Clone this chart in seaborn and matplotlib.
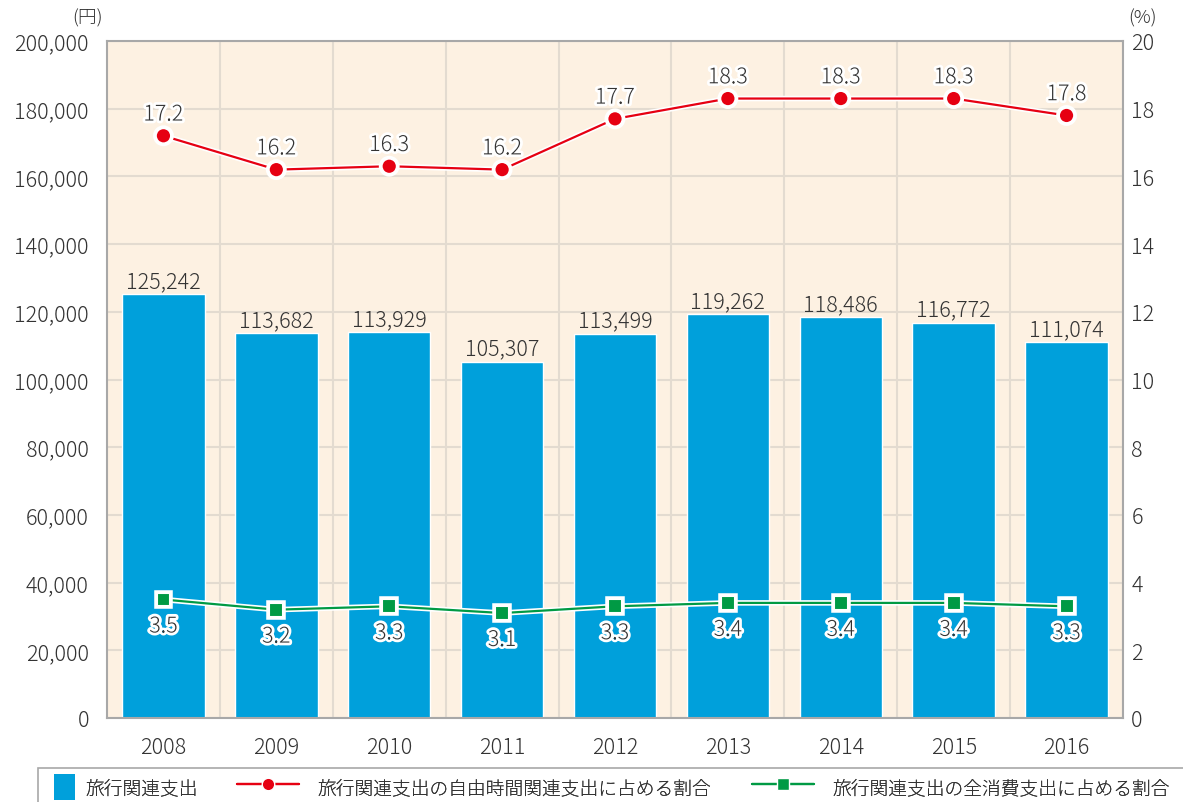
import matplotlib.pyplot as plt
import matplotlib.patheffects as pe
from matplotlib.patches import Patch, Rectangle
from matplotlib.lines import Line2D
import seaborn as sns
import pandas as pd
import numpy as np

# データ
years = ['2008', '2009', '2010', '2011', '2012', '2013', '2014', '2015', '2016']
travel_spend = [125242, 113682, 113929, 105307, 113499, 119262, 118486, 116772, 111074]
share_leisure = [17.2, 16.2, 16.3, 16.2, 17.7, 18.3, 18.3, 18.3, 17.8]
share_total = [3.5, 3.2, 3.3, 3.1, 3.3, 3.4, 3.4, 3.4, 3.3]
legend_labels = ['旅行関連支出', '旅行関連支出の自由時間関連支出に占める割合', '旅行関連支出の全消費支出に占める割合']

df = pd.DataFrame({'year': years, 'spend': travel_spend,
                   'leisure': share_leisure, 'total': share_total})
df['pos'] = np.arange(len(df))

sns.set_theme(style='white')
plt.rcParams['font.family'] = ['Noto Sans CJK JP', 'DejaVu Sans']
plt.rcParams['font.weight'] = 'light'

blue = '#00A0DB'
red = '#E60012'
green = '#009A44'
grid_c = '#E3DBD0'
text_c = '#333333'
fs = 15.5

fig = plt.figure(figsize=(11.83, 8.03), dpi=100)
ax = fig.add_axes([107/1183, 1-719/803, (1123-107)/1183, (719-42)/803])
ax.set_facecolor('#FDF1E2')

sns.barplot(data=df, x='year', y='spend', color=blue, saturation=1, width=0.73, ax=ax, zorder=2)
ax.set_xlim(-0.5, 8.5)
ax.set_ylim(0, 200000)
ax.set_yticks(np.arange(0, 200001, 20000))
ax.set_yticklabels([f'{v:,}' for v in range(0, 200001, 20000)])
ax.set_xticks(np.arange(9) + 0.5, minor=True)
ax.grid(True, axis='y', which='major', color=grid_c, lw=1.5, zorder=0)
ax.grid(True, axis='x', which='minor', color=grid_c, lw=1.5, zorder=0)
ax.set_axisbelow(True)
ax.set_xlabel('')
ax.set_ylabel('')
ax.tick_params(axis='both', which='both', length=0, labelsize=fs, colors=text_c)
ax.tick_params(axis='y', pad=13)
ax.tick_params(axis='x', pad=13)
for s in ax.spines.values():
    s.set_color('#A8A8A8')
    s.set_linewidth(1.5)

for p, v in zip(df['pos'], df['spend']):
    ax.text(p, v + 2100, f'{v:,}', ha='center', va='baseline', fontsize=fs, color=text_c, zorder=5)

ax2 = ax.twinx()
ax2.set_ylim(0, 20)
ax2.set_yticks(np.arange(0, 21, 2))
ax2.tick_params(axis='y', length=0, labelsize=fs, colors=text_c, pad=6)
for s in ax2.spines.values():
    s.set_visible(False)

line_fx = [pe.Stroke(linewidth=4, foreground='white'), pe.Normal()]
sns.lineplot(data=df, x='pos', y='leisure', color=red, lw=1.6, marker='o', markersize=11,
             markeredgecolor='white', markeredgewidth=1.5, ax=ax2, zorder=4, path_effects=line_fx)
sns.lineplot(data=df, x='pos', y='total', color=green, lw=1.6, marker='s', markersize=10,
             markeredgecolor='white', markeredgewidth=1.5, ax=ax2, zorder=4, path_effects=line_fx)
ax2.set_xlim(-0.5, 8.5)
ax2.set_xlabel('')
ax2.set_ylabel('')

txt_fx = [pe.withStroke(linewidth=4, foreground='white')]
for p, v in zip(df['pos'], df['leisure']):
    ax2.text(p, v + 0.45, f'{v:.1f}', ha='center', va='baseline', fontsize=fs, color=text_c,
             path_effects=txt_fx, zorder=6)
for p, v in zip(df['pos'], df['total']):
    ax2.text(p, v - 0.47, f'{v:.1f}', ha='center', va='top', fontsize=fs, color=text_c,
             path_effects=txt_fx, zorder=6)

fig.text(87/1183, 1-18/803, '(円)', ha='center', va='center', fontsize=13.5, color=text_c)
fig.text(1142/1183, 1-18/803, '(%)', ha='center', va='center', fontsize=13.5, color=text_c)

# 凡例
fig.patches.append(Rectangle((38/1183, -0.01), 1.0, (803-769)/803 + 0.01, transform=fig.transFigure,
                             fill=False, edgecolor='#A8A8A8', lw=1.2))
handles = [Patch(facecolor=blue, edgecolor='none'),
           Line2D([], [], color=red, lw=1.6, marker='o', markersize=9, markeredgecolor='white'),
           Line2D([], [], color=green, lw=1.6, marker='s', markersize=8, markeredgecolor='white')]
leg_x = [54, 237, 752]
leg_len = [1.1, 3.3, 3.3]
leg_pad = [0.6, 1.0, 1.0]
for h, lab, x0, hl, tp in zip(handles, legend_labels, leg_x, leg_len, leg_pad):
    lg = fig.legend([h], [lab], loc='center left', bbox_to_anchor=(x0/1183, 1-788/803),
                    frameon=False, fontsize=13.5, handlelength=hl, handleheight=1.7,
                    handletextpad=tp, borderpad=0, borderaxespad=0, labelcolor=text_c)
    fig.add_artist(lg)

plt.savefig('out.png', dpi=100)
